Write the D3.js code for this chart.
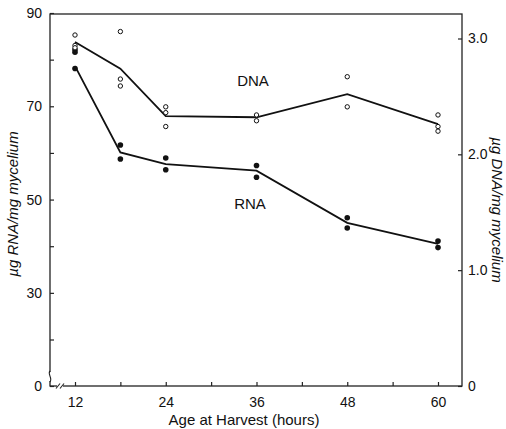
<!DOCTYPE html>
<html>
<head>
<meta charset="utf-8">
<script src="https://cdn.jsdelivr.net/npm/d3@7"></script>
<style>
  html, body { margin: 0; padding: 0; background: #fff; }
  svg text { font-family: "Liberation Sans", Arial, sans-serif; fill: #111; }
</style>
</head>
<body>
<div id="chart"></div>
<script>
// ─── Data ─────────────────────────────────────────────────────────────────
const hours = [12, 18, 24, 36, 48, 60];

// RNA (filled dots, left axis, µg/mg)
const rnaPoints = [
    [82.1, 81.6, 78.1],
    [61.7, 58.7],
    [58.9, 56.4],
    [57.3, 54.8],
    [46.1, 43.9],
    [41.1, 39.7]
];
const rnaCurve = [78.6, 60.1, 57.6, 56.2, 45.0, 40.5];

// DNA (open circles, right axis, µg/mg)
const dnaPoints = [
    [3.03, 2.94, 2.92],
    [3.06, 2.65, 2.59],
    [2.41, 2.36, 2.24],
    [2.34, 2.29],
    [2.67, 2.41],
    [2.34, 2.24, 2.20]
];
const dnaCurve = [2.97, 2.74, 2.33, 2.32, 2.52, 2.26];

const xTicks = [12, 18, 24, 30, 36, 42, 48, 54, 60];
const xLabels = [12, 24, 36, 48, 60];
const leftTicks = [0, 20, 30, 40, 50, 60, 70, 80, 90];
const leftLabels = [0, 30, 50, 70, 90];
const rightTicks = [0, 1, 2, 3];

// ─── Layout ───────────────────────────────────────────────────────────────
const W = 506, H = 429;
const frame = { left: 50, right: 462, top: 14, bottom: 386 };

const svg = d3.select('#chart').append('svg')
    .attr('width', W).attr('height', H);

const x = d3.scaleLinear().domain([12, 60]).range([75, 438]);
// left axis is broken below 20 (0 sits where 10 would be)
const yL = d3.scaleLinear().domain([0, 20, 90]).range([frame.bottom, 339.5, 13]);
const yR = d3.scaleLinear().domain([0, 3]).range([frame.bottom, 38.5]);

// Frame
svg.append('rect')
    .attr('x', frame.left).attr('y', frame.top)
    .attr('width', frame.right - frame.left)
    .attr('height', frame.bottom - frame.top)
    .attr('fill', 'none')
    .attr('stroke', '#222')
    .attr('stroke-width', 1.3);

// Axes (ticks point inward)
const styleAxis = g => {
    g.select('.domain').remove();
    g.selectAll('.tick line').attr('stroke', '#222').attr('stroke-width', 1.2);
    g.selectAll('.tick text').style('font-size', '14px');
};

svg.append('g')
    .attr('transform', `translate(${frame.left},0)`)
    .call(d3.axisLeft(yL).tickValues(leftTicks).tickSizeInner(-4).tickSizeOuter(0).tickPadding(8)
        .tickFormat(d => leftLabels.includes(d) ? d : ''))
    .call(styleAxis);

svg.append('g')
    .attr('transform', `translate(${frame.right},0)`)
    .call(d3.axisRight(yR).tickValues(rightTicks).tickSizeInner(-4).tickSizeOuter(0).tickPadding(6)
        .tickFormat(d => d === 0 ? '0' : d3.format('.1f')(d)))
    .call(styleAxis);

svg.append('g')
    .attr('transform', `translate(0,${frame.bottom})`)
    .call(d3.axisBottom(x).tickValues(xTicks).tickSizeInner(-4).tickSizeOuter(0).tickPadding(11)
        .tickFormat(d => xLabels.includes(d) ? d : ''))
    .call(styleAxis);

// Axis breaks
svg.append('rect').attr('x', 57).attr('y', frame.bottom - 2).attr('width', 6).attr('height', 4).attr('fill', '#fff');
[56, 60].forEach(bx => {
    svg.append('line')
        .attr('x1', bx).attr('y1', frame.bottom + 2.5)
        .attr('x2', bx + 4).attr('y2', frame.bottom - 2.5)
        .attr('stroke', '#222').attr('stroke-width', 1.1);
});
svg.append('rect').attr('x', frame.left - 2).attr('y', 372).attr('width', 4).attr('height', 9).attr('fill', '#fff');
svg.append('path')
    .attr('d', `M ${frame.left} 371 C ${frame.left - 3} 374, ${frame.left + 3} 378, ${frame.left} 382`)
    .attr('fill', 'none').attr('stroke', '#222').attr('stroke-width', 1.1);

// Mean curves
const lineL = d3.line().x((d, i) => x(hours[i])).y(d => yL(d));
const lineR = d3.line().x((d, i) => x(hours[i])).y(d => yR(d));

svg.append('path').attr('d', lineL(rnaCurve))
    .attr('fill', 'none').attr('stroke', '#111').attr('stroke-width', 1.8);
svg.append('path').attr('d', lineR(dnaCurve))
    .attr('fill', 'none').attr('stroke', '#111').attr('stroke-width', 1.8);

// Individual determinations
const flat = (pts) => pts.flatMap((vals, i) => vals.map(v => ({ h: hours[i], v })));

svg.append('g').selectAll('circle')
    .data(flat(rnaPoints))
    .enter().append('circle')
    .attr('cx', d => x(d.h)).attr('cy', d => yL(d.v))
    .attr('r', 2.8)
    .attr('fill', '#111');

svg.append('g').selectAll('circle')
    .data(flat(dnaPoints))
    .enter().append('circle')
    .attr('cx', d => x(d.h)).attr('cy', d => yR(d.v))
    .attr('r', 2.2)
    .attr('fill', '#fff')
    .attr('stroke', '#111')
    .attr('stroke-width', 1);

// Series labels
svg.append('text').attr('x', 253).attr('y', 86)
    .attr('text-anchor', 'middle').style('font-size', '15px').text('DNA');
svg.append('text').attr('x', 250).attr('y', 209)
    .attr('text-anchor', 'middle').style('font-size', '15px').text('RNA');

// Axis titles
svg.append('text')
    .attr('transform', 'translate(18,204) rotate(-90)')
    .attr('text-anchor', 'middle')
    .style('font-size', '15px').style('font-style', 'italic')
    .text('µg RNA/mg mycelium');

svg.append('text')
    .attr('transform', 'translate(492,210) rotate(90)')
    .attr('text-anchor', 'middle')
    .style('font-size', '15px').style('font-style', 'italic')
    .text('µg DNA/mg mycelium');

svg.append('text')
    .attr('x', 244).attr('y', 425)
    .attr('text-anchor', 'middle')
    .style('font-size', '15px')
    .text('Age at Harvest (hours)');
</script>
</body>
</html>
